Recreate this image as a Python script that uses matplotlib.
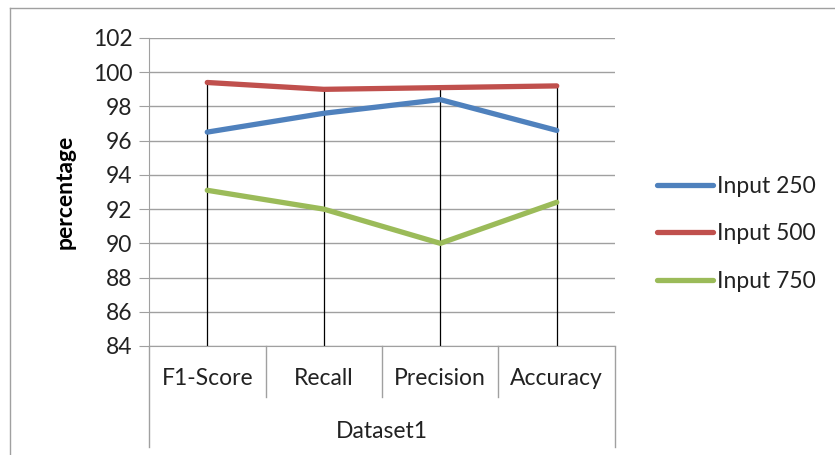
import matplotlib.pyplot as plt
from matplotlib.lines import Line2D
import numpy as np

plt.rcParams['font.family'] = ['Lato', 'DejaVu Sans']

# Data
categories = ['F1-Score', 'Recall', 'Precision', 'Accuracy']
group_label = 'Dataset1'
input_250 = [96.5, 97.6, 98.4, 96.6]
input_500 = [99.4, 99.0, 99.1, 99.2]
input_750 = [93.1, 92.0, 90.0, 92.4]
series_names = ['Input 250', 'Input 500', 'Input 750']
colors = ['#4F81BD', '#C0504D', '#9BBB59']
yticks = np.arange(84, 103, 2)

fs = 16.5

fig = plt.figure(figsize=(8.35, 4.55), dpi=100)
ax = fig.add_axes([149 / 835, 1 - 346 / 455, 466 / 835, 308 / 455])

x = np.arange(len(categories))
ax.set_xlim(-0.5, len(categories) - 0.5)
ax.set_ylim(84, 102)
ax.set_yticks(yticks)
ax.yaxis.grid(True, color='#A0A0A0', linewidth=1)
ax.set_axisbelow(True)

# drop lines from highest point to axis
tops = np.max([input_250, input_500, input_750], axis=0)
ax.vlines(x, 84, tops, color='black', linewidth=0.9, zorder=2)

for vals, name, c in zip([input_250, input_500, input_750], series_names, colors):
    ax.plot(x, vals, color=c, linewidth=3.8, solid_capstyle='round', label=name, zorder=3)

for s in ['top', 'right']:
    ax.spines[s].set_visible(False)
ax.spines['left'].set_color('#A0A0A0')
ax.spines['bottom'].set_color('#A0A0A0')
ax.tick_params(axis='y', length=7, color='#A0A0A0', labelsize=fs, labelcolor='#222222', pad=5)
ax.set_xticks([])
ax.set_ylabel('percentage', fontsize=fs, fontweight='bold')
ax.yaxis.set_label_coords(-0.157, 0.5)

# category boxes under the axis
tr = ax.get_xaxis_transform()
for b in np.arange(0.5, len(categories) - 0.5, 1):
    ax.plot([b, b], [0, -0.166], color='#A0A0A0', linewidth=1, transform=tr, clip_on=False)
for b in [-0.5, len(categories) - 0.5]:
    ax.plot([b, b], [0, -0.328], color='#A0A0A0', linewidth=1, transform=tr, clip_on=False)
for xi, lab in zip(x, categories):
    ax.text(xi, -0.107, lab, transform=tr, ha='center', va='center', fontsize=fs, color='#222222')
ax.text((len(categories) - 1) / 2, -0.279, group_label, transform=tr, ha='center', va='center',
        fontsize=fs, color='#222222')

handles = [Line2D([0], [0], color=c, linewidth=3.8, solid_capstyle='round') for c in colors]
fig.legend(handles, series_names, loc='center left', bbox_to_anchor=(657 / 835, 1 - 234 / 455),
           frameon=False, fontsize=fs, handlelength=2.45, handletextpad=0.15, labelspacing=1.17,
           borderpad=0, borderaxespad=0, labelcolor='#222222')

# outer chart border
fig.add_artist(Line2D([9.5 / 835, 9.5 / 835], [0, 1 - 8 / 455], color='#A0A0A0', linewidth=1,
                      transform=fig.transFigure))
fig.add_artist(Line2D([9.5 / 835, 1], [1 - 8 / 455, 1 - 8 / 455], color='#A0A0A0', linewidth=1,
                      transform=fig.transFigure))

plt.savefig('out.png', dpi=100)
